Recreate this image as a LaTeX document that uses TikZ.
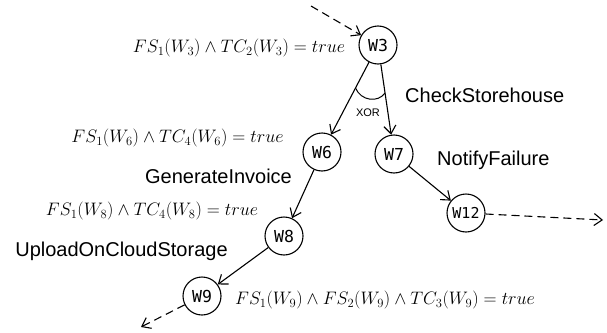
\documentclass[tikz,border=0pt]{standalone}
\usepackage{graphicx}
\usepackage{fontspec}
\usetikzlibrary{arrows.meta}
\newfontfamily\labelfont{Liberation Sans}
\newfontfamily\taskfont{DejaVu Sans Mono}
% conditions are set a little above the 17.28pt math size
\newcommand{\condtext}[1]{\scalebox{1.045}{$#1$}}
\begin{document}
\begin{tikzpicture}[x=1pt,y=-1pt,
  task/.style={circle,draw,line width=1.1pt,minimum size=38pt,inner sep=0pt,
    font=\taskfont\fontsize{16.5}{16.5}\selectfont},
  flow/.style={line width=1.1pt,-{Straight Barb[length=8pt,width=12pt]}},
  loose/.style={flow,dash pattern=on 8pt off 5pt},
  cond/.style={inner sep=0pt,font=\fontsize{17.28}{21}\selectfont},
  svc/.style={inner sep=0pt,font=\labelfont\fontsize{20}{24}\selectfont},
  gate/.style={inner sep=0pt,font=\labelfont\fontsize{11}{13}\selectfont}]
\useasboundingbox (0,0) rectangle (607,332);

% tasks
\node[task] (w3)  at (378,45)  {W3};
\node[task] (w6)  at (322,152) {W6};
\node[task] (w7)  at (394,154) {W7};
\node[task,font=\taskfont\fontsize{15}{15}\selectfont] (w12) at (466,213) {W12};
\node[task] (w8)  at (284,236) {W8};
\node[task] (w9)  at (202,296) {W9};

% loose ends of the dashed flows
\coordinate (in3)   at (311,6);
\coordinate (out12) at (603,220);
\coordinate (out9)  at (141,327);

% flows
\draw[loose] (in3) -- (w3);
\draw[flow] (w3) -- (w6);
\draw[flow] (w3) -- (w7);
\draw[flow] (w6) -- (w8);
\draw[flow] (w7) -- (w12);
\draw[flow] (w8) -- (w9);
\draw[loose] (w12) -- (out12);
\draw[loose] (w9) -- (out9);

% XOR split mark
\draw[line width=1pt] (355.5,88) .. controls (361,101) and (378,103) .. (385,93);
\node[gate] (xor) at (368,113) {XOR};

% services
\node[svc,anchor=west] (chk) at (405,95)  {CheckStorehouse};
\node[svc,anchor=west] (ntf) at (437,160) {NotifyFailure};
\node[svc] (gen) at (218.5,176) {GenerateInvoice};
\node[svc] (upl) at (121.5,251) {UploadOnCloudStorage};

% conditions
\node[cond] (c3) at (239,48)    {\condtext{FS_1(W_3)\wedge TC_2(W_3)=true}};
\node[cond] (c6) at (177.5,138) {\condtext{FS_1(W_6)\wedge TC_4(W_6)=true}};
\node[cond] (c8) at (152,211)   {\condtext{FS_1(W_8)\wedge TC_4(W_8)=true}};
\node[cond] (c9) at (385,300)   {\condtext{FS_1(W_9)\wedge FS_2(W_9)\wedge TC_3(W_9)=true}};
\end{tikzpicture}
\end{document}
